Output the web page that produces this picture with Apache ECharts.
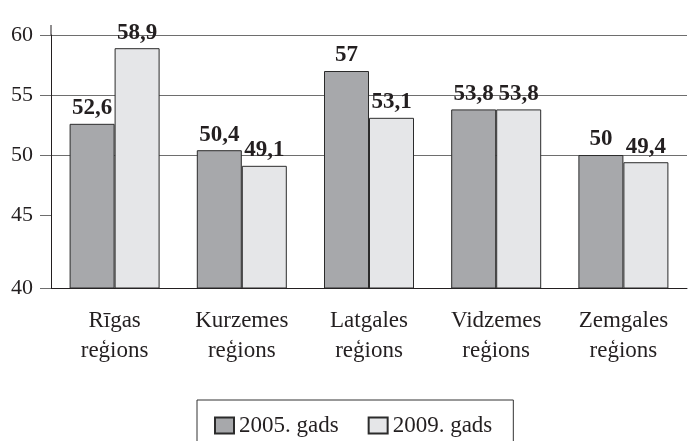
<!DOCTYPE html>
<html>
<head>
<meta charset="utf-8">
<script src="https://cdn.jsdelivr.net/npm/echarts@6/dist/echarts.min.js"></script>
<style>
  html, body { margin: 0; padding: 0; background: #fff; }
  #main { width: 693px; height: 441px; }
</style>
</head>
<body>
<div id="main"></div>
<script>
// reģionu dati
var categories = ['Rīgas\nreģions', 'Kurzemes\nreģions', 'Latgales\nreģions', 'Vidzemes\nreģions', 'Zemgales\nreģions'];
var seriesNames = ['2005. gads', '2009. gads'];
var values2005 = [52.6, 50.4, 57, 53.8, 50];
var values2009 = [58.9, 49.1, 53.1, 53.8, 49.4];
var yTicks = [40, 45, 50, 55, 60];

// the x axis in the picture sits a little below the 40 level
var yBottom = 38.92;

var font = 'Liberation Serif';
var ink = '#231f20';
var gridGrey = '#6e6e6e';
var none = 'rgba(0,0,0,0)';

var myChart = echarts.init(document.getElementById('main'));

function labelFmt(p) {
    return String(p.value).replace('.', ',');
}

var tickValues = [yBottom].concat(yTicks.slice(1));

option = {
    animation: false,
    textStyle: { fontFamily: font, color: ink },
    grid: {
        left: 51,
        right: 6,
        top: 35,
        bottom: 153
    },
    legend: {
        left: 197,
        top: 400,
        padding: [14, 21, 14, 17],
        itemGap: 29,
        itemWidth: 19,
        itemHeight: 16,
        icon: 'rect',
        borderColor: '#333',
        borderWidth: 1,
        textStyle: { fontFamily: font, fontSize: 23, color: ink },
        data: seriesNames
    },
    graphic: [{
        type: 'line',
        shape: { x1: 51, y1: 25, x2: 51, y2: 35 },
        style: { stroke: ink, lineWidth: 1 }
    }],
    xAxis: {
        type: 'category',
        data: categories,
        axisLine: { lineStyle: { color: ink, width: 1 } },
        axisTick: { length: 9, lineStyle: { color: ink } },
        axisLabel: {
            fontFamily: font,
            fontSize: 23,
            color: ink,
            lineHeight: 30,
            margin: 18
        }
    },
    yAxis: {
        type: 'value',
        min: yBottom,
        max: yTicks[yTicks.length - 1],
        axisLine: { show: true, lineStyle: { color: ink, width: 1 } },
        axisTick: {
            show: true,
            length: 11,
            customValues: tickValues,
            lineStyle: { color: gridGrey }
        },
        splitLine: { lineStyle: { color: [none, none, gridGrey, gridGrey, gridGrey, gridGrey], width: 1 } },
        axisLabel: {
            fontFamily: font,
            fontSize: 22,
            color: ink,
            margin: 18,
            customValues: tickValues,
            formatter: function (v) {
                return v < yTicks[0] ? String(yTicks[0]) : String(v);
            }
        }
    },
    series: [{
        name: seriesNames[0],
        type: 'bar',
        data: values2005,
        barWidth: 45,
        barGap: '0%',
        itemStyle: { color: '#a7a8ab', borderColor: '#2b2b2b', borderWidth: 1 },
        label: {
            show: true,
            position: 'top',
            distance: 4,
            fontFamily: font,
            fontWeight: 'bold',
            fontSize: 23,
            color: ink,
            formatter: labelFmt
        }
    }, {
        name: seriesNames[1],
        type: 'bar',
        data: values2009,
        barWidth: 45,
        barGap: '0%',
        itemStyle: { color: '#e5e6e8', borderColor: '#2b2b2b', borderWidth: 1 },
        label: {
            show: true,
            position: 'top',
            distance: 4,
            fontFamily: font,
            fontWeight: 'bold',
            fontSize: 23,
            color: ink,
            formatter: labelFmt
        }
    }]
};
myChart.setOption(option);
</script>
</body>
</html>
